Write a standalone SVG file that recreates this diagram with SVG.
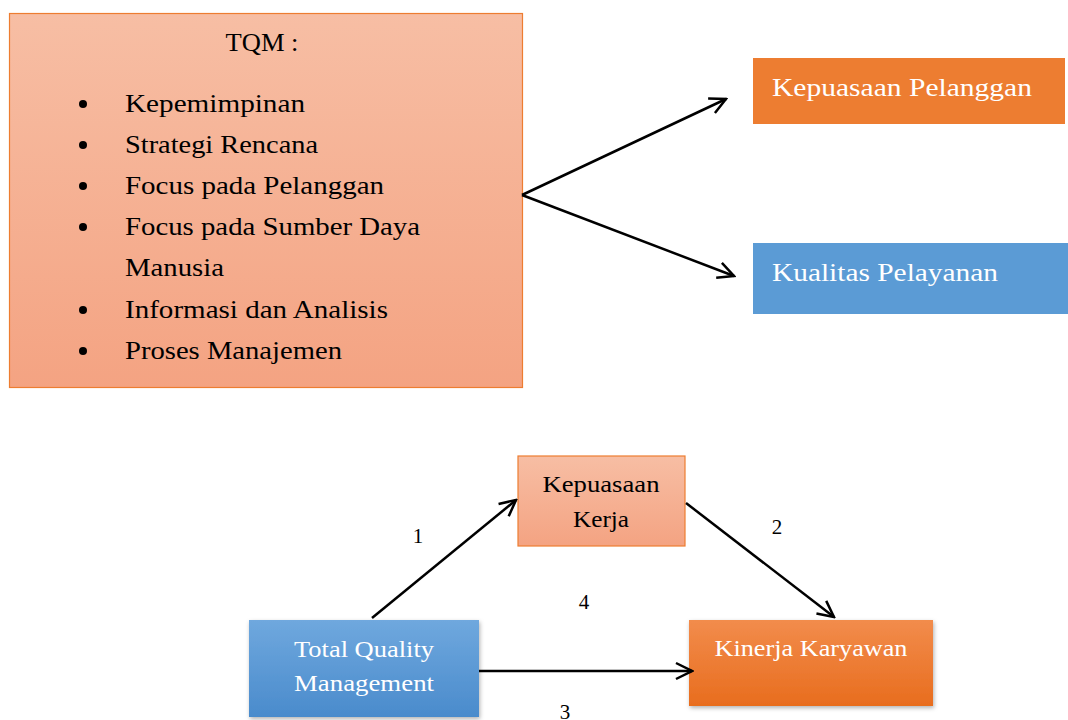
<svg xmlns="http://www.w3.org/2000/svg" width="1068" height="720" viewBox="0 0 1068 720">
<defs>
<linearGradient id="peach" x1="0" y1="0" x2="0" y2="1"><stop offset="0" stop-color="#f7bea4"/><stop offset="1" stop-color="#f4a382"/></linearGradient>
<linearGradient id="blue" x1="0" y1="0" x2="0" y2="1"><stop offset="0" stop-color="#6fa8de"/><stop offset="1" stop-color="#4a8bcc"/></linearGradient>
<linearGradient id="orange" x1="0" y1="0" x2="0" y2="1"><stop offset="0" stop-color="#f28c4c"/><stop offset="1" stop-color="#e86d1e"/></linearGradient>
<filter id="sh" x="-10%" y="-10%" width="130%" height="130%"><feDropShadow dx="1" dy="2" stdDeviation="2" flood-color="#000" flood-opacity="0.3"/></filter>
<marker id="arr" viewBox="0 0 20 20" refX="18" refY="10" markerWidth="20" markerHeight="20" markerUnits="userSpaceOnUse" orient="auto"><path d="M2,2 L18,10 L2,18" fill="none" stroke="#000" stroke-width="2.5"/></marker>
</defs>
<style>
text{font-family:"Palatino Linotype","Book Antiqua","Liberation Serif",serif;}
.t{font-size:26px;fill:#000;}
.w{font-size:26px;fill:#fff;}
.s{font-size:23px;}
.n{font-size:21px;fill:#000;}
.c{stroke:#000;stroke-width:2.5;fill:none;marker-end:url(#arr);}
</style>
<g id="tqm-list">
<rect x="9.5" y="13.5" width="513" height="374" fill="url(#peach)" stroke="#ed7d31" stroke-width="1.2"/>
<text class="t" x="262" y="51" text-anchor="middle" textLength="73" lengthAdjust="spacingAndGlyphs">TQM :</text>
<g fill="#000"><circle cx="83" cy="104" r="4"/><circle cx="83" cy="145" r="4"/><circle cx="83" cy="186" r="4"/><circle cx="83" cy="227" r="4"/><circle cx="83" cy="310" r="4"/><circle cx="83" cy="351" r="4"/></g>
<text class="t" x="125" y="112" textLength="180" lengthAdjust="spacingAndGlyphs">Kepemimpinan</text>
<text class="t" x="125" y="153" textLength="193" lengthAdjust="spacingAndGlyphs">Strategi Rencana</text>
<text class="t" x="125" y="194" textLength="259" lengthAdjust="spacingAndGlyphs">Focus pada Pelanggan</text>
<text class="t" x="125" y="235" textLength="295" lengthAdjust="spacingAndGlyphs">Focus pada Sumber Daya</text>
<text class="t" x="125" y="276" textLength="99" lengthAdjust="spacingAndGlyphs">Manusia</text>
<text class="t" x="125" y="318" textLength="263" lengthAdjust="spacingAndGlyphs">Informasi dan Analisis</text>
<text class="t" x="125" y="359" textLength="217" lengthAdjust="spacingAndGlyphs">Proses Manajemen</text>
</g>
<g id="kepuasaan-pelanggan">
<rect x="753" y="58" width="312" height="66" fill="#ed7d31"/>
<text class="w" x="772" y="96" textLength="260" lengthAdjust="spacingAndGlyphs">Kepuasaan Pelanggan</text>
</g>
<g id="kualitas-pelayanan">
<rect x="753" y="243" width="315" height="71" fill="#5b9bd5"/>
<text class="w" x="772" y="281" textLength="226" lengthAdjust="spacingAndGlyphs">Kualitas Pelayanan</text>
</g>
<g id="kepuasaan-kerja">
<rect x="518" y="456" width="167" height="90" fill="url(#peach)" stroke="#ed7d31" stroke-width="1.2"/>
<text class="s" x="601" y="492" text-anchor="middle" textLength="117" lengthAdjust="spacingAndGlyphs">Kepuasaan</text>
<text class="s" x="601" y="527" text-anchor="middle" textLength="56" lengthAdjust="spacingAndGlyphs">Kerja</text>
</g>
<g id="total-quality-management">
<rect x="249" y="620" width="230" height="97" fill="url(#blue)" filter="url(#sh)"/>
<text class="s" x="364" y="657" text-anchor="middle" fill="#fff" textLength="140" lengthAdjust="spacingAndGlyphs">Total Quality</text>
<text class="s" x="364" y="691" text-anchor="middle" fill="#fff" textLength="140" lengthAdjust="spacingAndGlyphs">Management</text>
</g>
<g id="kinerja-karyawan">
<rect x="689" y="620" width="244" height="86" fill="url(#orange)" filter="url(#sh)"/>
<text class="s" x="811" y="656" text-anchor="middle" fill="#fff" textLength="193" lengthAdjust="spacingAndGlyphs">Kinerja Karyawan</text>
</g>
<g id="connectors">
<path class="c" d="M522,195 L726,99"/>
<path class="c" d="M522,195 L734,276"/>
<path class="c" d="M372,618 L516,500"/>
<path class="c" d="M686,503 L834,617"/>
<path class="c" d="M479,671 L692,671"/>
</g>
<g id="labels">
<text class="n" x="418" y="543" text-anchor="middle">1</text>
<text class="n" x="777" y="534" text-anchor="middle">2</text>
<text class="n" x="565" y="719" text-anchor="middle">3</text>
<text class="n" x="584" y="609" text-anchor="middle">4</text>
</g>
</svg>
